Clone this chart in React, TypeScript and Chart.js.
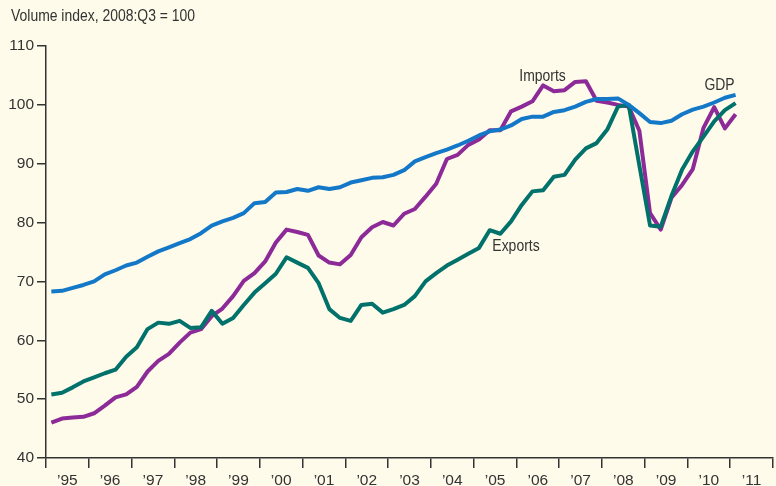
import React, { useEffect, useRef } from "react";
import { Chart, registerables } from "chart.js";

Chart.register(...registerables);

// ---- Data ----
const years = [1995, 1996, 1997, 1998, 1999, 2000, 2001, 2002, 2003, 2004, 2005, 2006, 2007, 2008, 2009, 2010, 2011];
const yearLabels = ["’95", "’96", "’97", "’98", "’99", "’00", "’01", "’02", "’03", "’04", "’05", "’06", "’07", "’08", "’09", "’10", "’11"];
const axisYearBounds = [1995, 1996, 1997, 1998, 1999, 2000, 2001, 2002, 2003, 2004, 2005, 2006, 2007, 2008, 2009, 2010, 2011, 2012];
const yTicks = [40, 50, 60, 70, 80, 90, 100, 110];

// quarterly categories 1995:Q1 .. 2011:Q1
const quarters: string[] = [];
for (const yr of years) {
  for (let q = 1; q <= 4; q++) {
    if (yr === 2011 && q > 1) break;
    quarters.push(`${yr}:Q${q}`);
  }
}

const gdp = [
  68.3, 68.4, 68.9, 69.4, 70.0, 71.2, 71.9, 72.7, 73.2, 74.2,
  75.1, 75.8, 76.5, 77.2, 78.2, 79.5, 80.2, 80.8, 81.6, 83.3,
  83.5, 85.1, 85.2, 85.7, 85.4, 86.0, 85.7, 86.0, 86.8, 87.2,
  87.6, 87.7, 88.1, 88.9, 90.4, 91.1, 91.8, 92.4, 93.1, 93.9,
  94.8, 95.5, 95.8, 96.5, 97.6, 98.0, 98.0, 98.8, 99.1, 99.7,
  100.5, 101.0, 101.0, 101.1, 100.0, 98.6, 97.1, 96.9, 97.3, 98.4,
  99.2, 99.7, 100.4, 101.2, 101.7,
];

const imports = [
  46.0, 46.7, 46.9, 47.0, 47.6, 48.9, 50.3, 50.8, 52.1, 54.7,
  56.5, 57.7, 59.6, 61.3, 61.9, 64.1, 65.4, 67.5, 70.1, 71.4,
  73.4, 76.6, 78.8, 78.4, 77.9, 74.4, 73.2, 72.9, 74.5, 77.5,
  79.2, 80.1, 79.5, 81.5, 82.3, 84.4, 86.6, 90.8, 91.5, 93.2,
  94.1, 95.7, 95.7, 98.9, 99.7, 100.6, 103.3, 102.3, 102.5, 103.9,
  104.0, 100.7, 100.4, 100.0, 99.7, 95.6, 81.6, 78.8, 84.2, 86.4,
  89.1, 96.1, 99.6, 96.0, 98.4,
];

const exportsSeries = [
  50.8, 51.1, 52.0, 53.0, 53.7, 54.4, 55.0, 57.2, 58.8, 61.9,
  63.0, 62.8, 63.3, 62.1, 62.2, 65.0, 62.8, 63.8, 66.0, 68.1,
  69.7, 71.3, 74.1, 73.2, 72.3, 69.7, 65.3, 63.8, 63.3, 66.0,
  66.2, 64.7, 65.3, 66.0, 67.5, 70.0, 71.4, 72.7, 73.7, 74.7,
  75.7, 78.7, 78.1, 80.2, 83.0, 85.3, 85.5, 87.8, 88.1, 90.7,
  92.6, 93.5, 95.8, 99.7, 100.0, 89.7, 79.5, 79.3, 84.5, 89.0,
  92.1, 94.6, 97.2, 99.1, 100.3,
];

const titleText = "Volume index, 2008:Q3 = 100";
const seriesNames = ["GDP", "Exports", "Imports"];
// label anchors in data coordinates (year, index value)
const labelAnchors = [
  { text: "GDP", x: 2010.75, y: 103.3 },
  { text: "Exports", x: 2005.99, y: 76.05 },
  { text: "Imports", x: 2006.61, y: 104.9 },
];

const COLORS = {
  bg: "#FFFBEA",
  text: "#333333",
  axis: "#333333",
  gdp: "#1478C8",
  exports: "#00716B",
  imports: "#8C2A98",
};
const FONT_FAMILY = "'Liberation Sans', Arial, Helvetica, sans-serif";
const CONDENSE = 0.82;

const quarterToX = (q: string) => {
  const [y, qq] = q.split(":Q");
  return Number(y) + (Number(qq) - 0.5) / 4;
};

const toPoints = (vals: number[]) => quarters.map((q, i) => ({ x: quarterToX(q), y: vals[i] }));

const bgPlugin = {
  id: "bgFill",
  beforeDraw(chart: any) {
    const { ctx, width, height } = chart;
    ctx.save();
    ctx.fillStyle = COLORS.bg;
    ctx.fillRect(0, 0, width, height);
    ctx.restore();
  },
};

const drawCondensed = (ctx: CanvasRenderingContext2D, text: string, x: number, y: number) => {
  ctx.save();
  ctx.translate(x, y);
  ctx.scale(CONDENSE, 1);
  ctx.fillText(text, 0, 0);
  ctx.restore();
};

const textPlugin = {
  id: "texts",
  afterDatasetsDraw(chart: any) {
    const { ctx } = chart;
    const xs = chart.scales.x;
    const ys = chart.scales.y;
    ctx.save();
    ctx.fillStyle = COLORS.text;
    ctx.font = `17px ${FONT_FAMILY}`;
    ctx.textAlign = "left";
    ctx.textBaseline = "alphabetic";
    drawCondensed(ctx, titleText, 11, 21);
    ctx.textAlign = "center";
    ctx.textBaseline = "middle";
    for (const a of labelAnchors) {
      drawCondensed(ctx, a.text, xs.getPixelForValue(a.x), ys.getPixelForValue(a.y));
    }
    ctx.restore();
  },
};

export default function App() {
  const ref = useRef<HTMLCanvasElement | null>(null);

  useEffect(() => {
    document.body.style.margin = "0";
    const canvas = ref.current;
    if (!canvas) return;
    const font = { family: FONT_FAMILY, size: 15.5 };
    const chart = new Chart(canvas, {
      type: "line",
      data: {
        datasets: [
          { label: seriesNames[0], data: toPoints(gdp), borderColor: COLORS.gdp },
          { label: seriesNames[1], data: toPoints(exportsSeries), borderColor: COLORS.exports },
          { label: seriesNames[2], data: toPoints(imports), borderColor: COLORS.imports },
        ].map((d) => ({
          ...d,
          borderWidth: 4,
          pointRadius: 0,
          pointHoverRadius: 0,
          tension: 0,
          fill: false,
          borderJoinStyle: "round" as const,
          borderCapStyle: "butt" as const,
        })),
      },
      options: {
        animation: false,
        responsive: false,
        devicePixelRatio: 1,
        events: [],
        layout: { padding: { top: 46, right: 1, bottom: 0, left: 0 } },
        plugins: {
          legend: { display: false },
          tooltip: { enabled: false },
          title: { display: false },
        },
        scales: {
          x: {
            type: "linear",
            position: "bottom",
            weight: 0,
            min: 1995,
            max: 2012,
            afterBuildTicks: (axis: any) => {
              axis.ticks = axisYearBounds.map((v) => ({ value: v }));
            },
            ticks: { callback: () => "", autoSkip: false, maxRotation: 0 },
            grid: { drawOnChartArea: false, drawTicks: true, tickLength: 10, color: COLORS.axis, lineWidth: 1.5 },
            border: { display: true, color: COLORS.axis, width: 1.5 },
            afterFit: (axis: any) => {
              axis.height = 10;
            },
          },
          x2: {
            type: "linear",
            position: "bottom",
            weight: 1,
            min: 1995,
            max: 2012,
            afterBuildTicks: (axis: any) => {
              axis.ticks = years.map((y) => ({ value: y + 0.5 }));
            },
            ticks: {
              callback: (_v: any, i: number) => yearLabels[i],
              autoSkip: false,
              maxRotation: 0,
              color: COLORS.text,
              font,
              padding: 3,
            },
            grid: { display: false, drawTicks: false },
            border: { display: false },
            afterFit: (axis: any) => {
              axis.height = 18;
            },
          },
          y: {
            type: "linear",
            position: "left",
            min: 40,
            max: 110,
            afterBuildTicks: (axis: any) => {
              axis.ticks = yTicks.map((v) => ({ value: v }));
            },
            ticks: { color: COLORS.text, font, padding: 3 },
            grid: { drawOnChartArea: false, drawTicks: true, tickLength: 9, color: COLORS.axis, lineWidth: 1.5 },
            border: { display: true, color: COLORS.axis, width: 1.5 },
            afterFit: (axis: any) => {
              axis.width = 46;
            },
          },
        },
      },
      plugins: [bgPlugin, textPlugin],
    } as any);
    return () => chart.destroy();
  }, []);

  return (
    <div style={{ position: "fixed", left: 0, top: 0, width: 776, height: 486 }}>
      <canvas ref={ref} width={776} height={486} style={{ display: "block" }} />
    </div>
  );
}
